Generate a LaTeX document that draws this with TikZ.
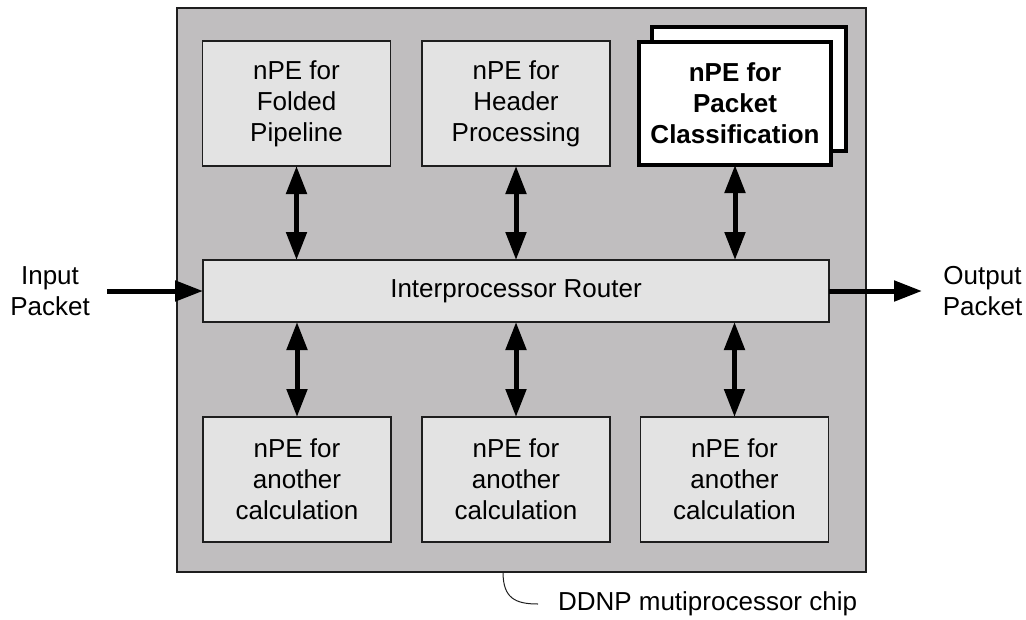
\documentclass[tikz,border=0pt]{standalone}
\usepackage{fontspec}
\setmainfont{Liberation Sans}
\usetikzlibrary{arrows.meta}
\definecolor{chipgray}{HTML}{C0BEBF}
\definecolor{pegray}{HTML}{E3E3E3}
\definecolor{edge}{HTML}{1E1E1E}
\begin{document}
\begin{tikzpicture}[x=1pt,y=-1pt,
  every node/.style={font=\fontsize{26}{31}\selectfont, align=center, inner sep=0pt, outer sep=0pt},
  chipbox/.style={draw=edge, line width=1.4pt, fill=chipgray},
  pebox/.style={draw=edge, line width=1.5pt, fill=pegray, minimum width=188pt, minimum height=125pt},
  keybox/.style={draw=black, line width=4pt, fill=white, minimum width=192pt, minimum height=123pt,
                 font=\fontsize{26}{31}\selectfont\bfseries},
  link/.style={line width=5pt, {Triangle[length=28pt,width=20pt]}-{Triangle[length=28pt,width=20pt]}},
  flow/.style={line width=5pt, -{Triangle[length=28pt,width=20pt]}},
  callout/.style={line width=1pt, draw=edge},
]
\useasboundingbox (0,0) rectangle (1026,619);

% chip outline
\node[chipbox, minimum width=689pt, minimum height=564pt] (chip) at (521.5,290) {};

% processing elements, top row
\node[pebox] (fold) at (296.5,103.5) {nPE for\\Folded\\Pipeline};
\node[pebox] (head) at (516,103.5) {nPE for\\Header\\Processing};
\node[keybox, minimum width=194pt, minimum height=124pt] (keyback) at (749,89) {};
\node[keybox] (key) at (735,103.5) {nPE for\\Packet\\Classification};

% router
\node[pebox, minimum width=626pt, minimum height=62pt] (router) at (516,291) {Interprocessor Router};

% processing elements, bottom row
\node[pebox] (calcA) at (297,479.5) {nPE for\\another\\calculation};
\node[pebox] (calcB) at (516,479.5) {nPE for\\another\\calculation};
\node[pebox] (calcC) at (734.5,479.5) {nPE for\\another\\calculation};

% router links
\draw[link] (fold.south) -- (fold.south |- router.north);
\draw[link] (head.south) -- (head.south |- router.north);
\draw[link] (key.south) -- (key.south |- router.north);
\draw[link] (router.south -| calcA.north) -- (calcA.north);
\draw[link] (router.south -| calcB.north) -- (calcB.north);
\draw[link] (router.south -| calcC.north) -- (calcC.north);

% packet in / out
\node (inlbl) at (50,291) {Input\\Packet};
\node (outlbl) at (982.5,291) {Output\\Packet};
\coordinate (instart) at (107,291);
\coordinate (outend) at (922,291);
\draw[flow] (instart) -- (router.west);
\draw[flow] (router.east) -- (outend);

% chip label
\coordinate (tap) at (503,572);
\node[fill=white, inner xsep=20pt, inner ysep=2pt, anchor=west] (chiplabel) at (538,604) {DDNP mutiprocessor chip};
\draw[callout] (tap) .. controls (503,598) and (515,604) .. (chiplabel.west);
\end{tikzpicture}
\end{document}
